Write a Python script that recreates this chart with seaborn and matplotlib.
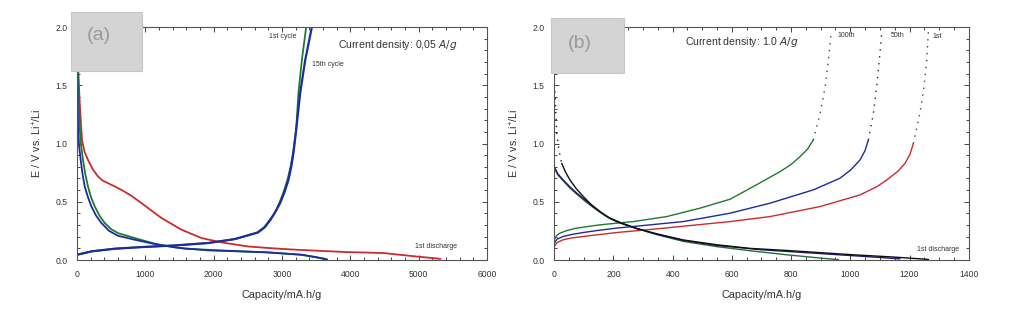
import matplotlib
matplotlib.use("Agg")
import matplotlib.pyplot as plt
import seaborn as sns
import numpy as np
import pandas as pd
from matplotlib.patches import Rectangle
from matplotlib.ticker import MultipleLocator, FormatStrFormatter

# ---------------- data: panel (a), 0.05 A/g ----------------
a_dis1_x = [0, 20, 40, 73, 110, 161, 230, 308, 380, 455, 551, 651, 800, 944, 1237, 1530, 1824, 2117, 2507, 2899, 3217, 3950, 4240, 4480, 4970, 5320]
a_dis1_y = [2.0, 1.6, 1.344, 1.03, 0.93, 0.859, 0.78, 0.716, 0.68, 0.659, 0.632, 0.602, 0.55, 0.488, 0.36, 0.26, 0.188, 0.151, 0.116, 0.099, 0.088, 0.068, 0.064, 0.06, 0.03, 0.01]

a_dis_c1_x = [0, 20, 40, 60, 88, 120, 161, 205, 260, 330, 406, 500, 601, 846, 1139, 1433, 1921, 2775, 3300, 3657]
a_dis_c1_y = [2.0, 1.5, 1.144, 0.98, 0.859, 0.74, 0.63, 0.54, 0.459, 0.38, 0.317, 0.265, 0.231, 0.188, 0.14, 0.108, 0.082, 0.066, 0.045, 0.005]
a_chg_c1_x = [0, 211, 553, 944, 1433, 1921, 2312, 2654, 2750, 2830, 2900, 2960, 3020, 3079, 3125, 3160, 3207, 3240, 3290, 3354]
a_chg_c1_y = [0.045, 0.074, 0.097, 0.111, 0.125, 0.146, 0.18, 0.236, 0.28, 0.34, 0.41, 0.488, 0.58, 0.687, 0.80, 0.916, 1.116, 1.43, 1.715, 2.0]

a_dis_c15_x = [0, 8, 15, 30, 54, 80, 113, 160, 211, 280, 358, 470, 601, 846, 1188, 1579, 1993, 2775, 3264, 3500, 3657]
a_dis_c15_y = [2.0, 1.5, 1.144, 0.98, 0.859, 0.74, 0.63, 0.54, 0.459, 0.38, 0.317, 0.25, 0.208, 0.174, 0.131, 0.097, 0.085, 0.066, 0.046, 0.025, 0.005]
a_chg_c15_x = [0, 211, 553, 944, 1433, 1921, 2312, 2640, 2740, 2826, 2900, 2972, 3035, 3094, 3135, 3167, 3207, 3265, 3339, 3437]
a_chg_c15_y = [0.045, 0.074, 0.097, 0.111, 0.125, 0.146, 0.18, 0.236, 0.28, 0.345, 0.41, 0.488, 0.58, 0.687, 0.80, 0.916, 1.116, 1.43, 1.715, 2.0]

# ---------------- data: panel (b), 1.0 A/g ----------------
b_chg1_x = [0, 10, 30, 60, 98, 150, 211, 324, 436, 594, 729, 898, 1033, 1090, 1123, 1160, 1185, 1202, 1213]
b_chg1_y = [0.117, 0.15, 0.174, 0.19, 0.202, 0.218, 0.236, 0.262, 0.29, 0.33, 0.373, 0.459, 0.559, 0.63, 0.687, 0.76, 0.83, 0.91, 1.0]
b_chg1_up_x = [1213, 1235, 1249, 1258, 1264]
b_chg1_up_y = [1.0, 1.258, 1.487, 1.715, 1.97]

b_chg50_x = [0, 10, 30, 60, 98, 150, 211, 324, 436, 594, 729, 875, 965, 1000, 1033, 1050, 1061]
b_chg50_y = [0.145, 0.18, 0.202, 0.22, 0.236, 0.255, 0.274, 0.302, 0.33, 0.402, 0.488, 0.602, 0.702, 0.77, 0.859, 0.94, 1.03]
b_chg50_up_x = [1061, 1078, 1089, 1098, 1106]
b_chg50_up_y = [1.03, 1.258, 1.487, 1.715, 1.943]

b_chg100_x = [0, 8, 19, 45, 76, 154, 267, 380, 492, 594, 672, 763, 800, 830, 855, 875]
b_chg100_y = [0.174, 0.21, 0.231, 0.255, 0.274, 0.302, 0.33, 0.373, 0.445, 0.522, 0.63, 0.759, 0.82, 0.887, 0.95, 1.03]
b_chg100_up_x = [875, 898, 915, 926, 935]
b_chg100_up_y = [1.03, 1.258, 1.487, 1.715, 1.943]

b_dis1_up_x = [2, 5, 8, 15, 25]
b_dis1_up_y = [1.45, 1.26, 1.1, 0.95, 0.83]
b_dis1_x = [25, 38, 53, 75, 98, 125, 154, 180, 211, 278, 346, 436, 549, 660, 785, 1010, 1150, 1264]
b_dis1_y = [0.83, 0.755, 0.687, 0.61, 0.545, 0.475, 0.416, 0.37, 0.33, 0.27, 0.225, 0.172, 0.131, 0.10, 0.082, 0.045, 0.025, 0.005]
b_dis50_x = [0, 12, 30, 52, 76, 104, 132, 160, 188, 230, 278, 346, 436, 549, 700, 900, 1100, 1168]
b_dis50_y = [0.80, 0.74, 0.687, 0.63, 0.574, 0.515, 0.459, 0.405, 0.36, 0.315, 0.272, 0.222, 0.168, 0.125, 0.088, 0.055, 0.022, 0.01]
b_dis100_x = [0, 12, 30, 52, 76, 104, 132, 160, 188, 230, 278, 346, 436, 549, 660, 785, 898, 960]
b_dis100_y = [0.79, 0.73, 0.68, 0.62, 0.565, 0.505, 0.45, 0.40, 0.355, 0.31, 0.27, 0.218, 0.16, 0.115, 0.08, 0.045, 0.017, 0.003]

# ---------------- style ----------------
sns.set_theme(style="ticks")
plt.rcParams['font.family'] = ['Liberation Sans', 'DejaVu Sans']
plt.rcParams['mathtext.default'] = 'regular'

RED = '#cc2b2b'
GREEN = '#1f7a2f'
BLUE = '#1c2ca0'
TXT = '#333333'

fig = plt.figure(figsize=(10.24, 3.22), dpi=100)
axA = fig.add_axes([0.0752, 0.1925, 0.4004, 0.7236])
axB = fig.add_axes([0.5413, 0.1925, 0.4047, 0.7236])


def line(ax, x, y, color, lw=1.3, ls='-'):
    df = pd.DataFrame({'x': x, 'y': y})
    sns.lineplot(data=df, x='x', y='y', ax=ax, color=color, lw=lw, ls=ls,
                 sort=False, estimator=None)


# panel (a)
line(axA, a_dis1_x, a_dis1_y, RED)
line(axA, a_dis_c1_x, a_dis_c1_y, GREEN)
line(axA, a_chg_c1_x, a_chg_c1_y, GREEN)
line(axA, a_dis_c15_x, a_dis_c15_y, BLUE)
line(axA, a_chg_c15_x, a_chg_c15_y, BLUE, lw=1.6)

# panel (b)
dot = (0, (1, 4))
line(axB, b_chg1_x, b_chg1_y, RED, lw=1.0)
line(axB, b_chg1_up_x, b_chg1_up_y, '#444444', lw=1.0, ls=dot)
line(axB, b_chg50_x, b_chg50_y, BLUE, lw=1.0)
line(axB, b_chg50_up_x, b_chg50_up_y, '#222244', lw=1.0, ls=dot)
line(axB, b_chg100_x, b_chg100_y, GREEN, lw=1.0)
line(axB, b_chg100_up_x, b_chg100_up_y, '#444444', lw=1.0, ls=dot)
line(axB, b_dis100_x, b_dis100_y, '#2a6a35', lw=1.0)
line(axB, b_dis50_x, b_dis50_y, '#1a1a70', lw=1.0)
line(axB, b_dis1_x, b_dis1_y, '#111111', lw=1.0)
line(axB, b_dis1_up_x, b_dis1_up_y, '#111111', lw=1.0, ls=dot)

for ax, xmax, xmaj, xmin in [(axA, 6000, 1000, 200), (axB, 1400, 200, 50)]:
    ax.set_xlim(0, xmax)
    ax.set_ylim(0, 2.0)
    ax.xaxis.set_major_locator(MultipleLocator(xmaj))
    ax.xaxis.set_minor_locator(MultipleLocator(xmin))
    ax.yaxis.set_major_locator(MultipleLocator(0.5))
    ax.yaxis.set_minor_locator(MultipleLocator(0.1))
    ax.yaxis.set_major_formatter(FormatStrFormatter('%.1f'))
    ax.tick_params(which='both', direction='in', top=True, right=True,
                   colors='#444444', labelcolor=TXT, labelsize=6.2, width=0.7)
    ax.tick_params(which='major', length=3.5, pad=7)
    ax.tick_params(which='minor', length=2)
    for s in ax.spines.values():
        s.set_color('#555555')
        s.set_linewidth(0.8)
    ax.set_xlabel('Capacity/mA.h/g', fontsize=7.8, color=TXT, labelpad=8)
    ax.set_ylabel('E / V vs. Li$^{+}$/Li', fontsize=7.8, color=TXT, labelpad=8)

# annotations (a)
axA.text(2814, 1.917, '1st cycle', fontsize=5, color=TXT, va='center')
axA.text(3444, 1.677, '15th cycle', fontsize=5, color=TXT, va='center')
axA.text(3815, 1.846, 'Current density: 0,05 $\\it{A/g}$', fontsize=7.6, color=TXT, va='center')
axA.text(4950, 0.117, '1st discharge', fontsize=5, color=TXT, va='center')

# annotations (b)
axB.text(955, 1.923, '100th', fontsize=5, color=TXT, va='center')
axB.text(1135, 1.926, '50th', fontsize=5, color=TXT, va='center')
axB.text(1276, 1.917, '1st', fontsize=5, color=TXT, va='center')
axB.text(443, 1.869, 'Current density: 1.0 $\\it{A/g}$', fontsize=7.6, color=TXT, va='center')
axB.text(1225, 0.089, '1st discharge', fontsize=5, color=TXT, va='center')

# gray label boxes
W, H = 1024, 322
for (x0, y0, x1, y1, tx, ty, lab) in [(71, 12, 142, 71, 99, 36, '(a)'),
                                     (551, 18, 624, 73, 580, 43, '(b)')]:
    fig.add_artist(Rectangle((x0 / W, 1 - y1 / H), (x1 - x0) / W, (y1 - y0) / H,
                             transform=fig.transFigure, facecolor='#d4d4d4',
                             edgecolor='#c6c6c6', lw=0.8, zorder=5))
    fig.text(tx / W, 1 - ty / H, lab, fontsize=14, color='#9a9a9a',
             ha='center', va='center', zorder=6)

fig.savefig('out.png', dpi=100, facecolor='white')
